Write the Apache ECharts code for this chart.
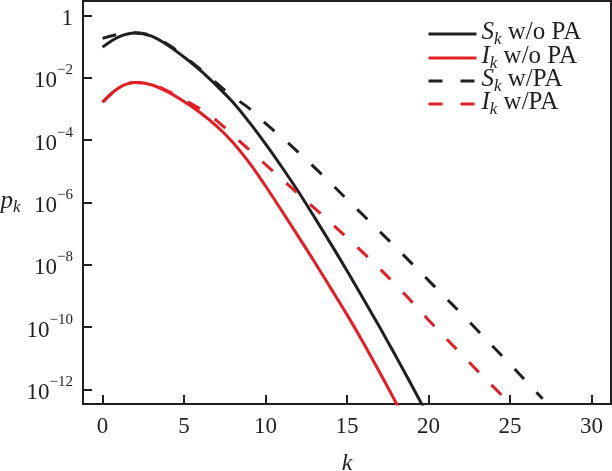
<!DOCTYPE html>
<html>
<head>
<meta charset="utf-8">
<script src="https://cdn.jsdelivr.net/npm/echarts@6/dist/echarts.min.js"></script>
<style>
html,body{margin:0;padding:0;background:#fff;}
#c{width:612px;height:471px;}
</style>
</head>
<body>
<div id="c"></div>
<script>
// k values (degree)
const kS_noPA = [0,1,2,3,4,5,6,7,8,9,10,11,12,13,14,15,16,17,18,19,20];
const kI_noPA = [0,1,2,3,4,5,6,7,8,9,10,11,12,13,14,15,16,17,18,19];
const kS_PA = [0,1,2,3,4,5,6,7,8,9,10,11,12,13,14,15,16,17,18,19,20,21,22,23,24,25,26,27];
const kI_PA = [0,1,2,3,4,5,6,7,8,9,10,11,12,13,14,15,16,17,18,19,20,21,22,23,24,25];

// log10(p_k)
const logS_noPA = [-1.01,-0.68,-0.556,-0.66,-0.95,-1.33,-1.76,-2.25,-2.78,-3.42,-4.12,-4.86,-5.64,-6.47,-7.32,-8.19,-9.09,-10.0,-10.94,-11.9,-12.88];
const logI_noPA = [-2.78,-2.32,-2.15,-2.22,-2.45,-2.76,-3.12,-3.55,-4.07,-4.72,-5.47,-6.27,-7.08,-7.9,-8.75,-9.6,-10.5,-11.45,-12.42,-13.4];
const logS_PA = [-0.73,-0.6,-0.55,-0.64,-0.92,-1.3,-1.72,-2.17,-2.6,-2.98,-3.46,-3.91,-4.38,-4.87,-5.38,-5.9,-6.41,-6.93,-7.44,-7.97,-8.5,-9.03,-9.56,-10.1,-10.65,-11.18,-11.75,-12.3];
const logI_PA = [-2.78,-2.32,-2.15,-2.2,-2.42,-2.7,-3.0,-3.37,-3.84,-4.31,-4.78,-5.25,-5.72,-6.18,-6.65,-7.13,-7.62,-8.12,-8.65,-9.2,-9.77,-10.32,-10.86,-11.4,-11.93,-12.45];

// tick labels
const xTicks = [0,5,10,15,20,25,30];
const yTicks = [0,-2,-4,-6,-8,-10,-12];

const seriesNames = ['Sk w/o PA','Ik w/o PA','Sk w/PA','Ik w/PA'];
const legendLabels = {
  'Sk w/o PA': '{m|S}{sub|k}{t| w/o PA}',
  'Ik w/o PA': '{m|I}{sub|k}{t| w/o PA}',
  'Sk w/PA': '{m|S}{sub|k}{t| w/PA}',
  'Ik w/PA': '{m|I}{sub|k}{t| w/PA}'
};

const BLACK = '#231f20';
const RED = '#e31f26';
const SERIF = '"Liberation Serif", "Times New Roman", Tinos, serif';

function pairs(ks, vs){ return ks.map((k,i)=>[k, vs[i]]); }

const chart = echarts.init(document.getElementById('c'), null, {renderer:'canvas'});

const subRich = {
  m: {fontFamily: SERIF, fontStyle:'italic', fontSize: 25, lineHeight: 28, verticalAlign:'top', color: BLACK},
  sub: {fontFamily: SERIF, fontStyle:'italic', fontSize: 17, lineHeight: 16, verticalAlign:'bottom', color: BLACK},
  t: {fontFamily: SERIF, fontSize: 25, lineHeight: 28, verticalAlign:'top', color: BLACK}
};

const legendTops = [20, 44, 67, 90];
const legends = seriesNames.map((n,i)=>({
  data: [n],
  left: 427,
  top: legendTops[i],
  orient: 'vertical',
  itemWidth: 48,
  itemHeight: 14,
  padding: 0,
  selectedMode: false,
  itemStyle: {opacity: 0},
  lineStyle: {width: 3},
  formatter: name => legendLabels[name],
  textStyle: {rich: subRich}
}));

function mkSeries(name, ks, vs, color, dashed){
  return {
    name: name,
    type: 'line',
    data: pairs(ks, vs),
    symbol: 'none',
    smooth: 0.35,
    clip: true,
    lineStyle: {color: color, width: 3, type: dashed ? [14,18] : 'solid', cap: 'butt'},
    itemStyle: {color: color},
    emphasis: {disabled: true}
  };
}

chart.setOption({
  animation: false,
  backgroundColor: '#fff',
  grid: {left: 83, right: 1, top: 1, bottom: 67, show: true, borderColor: BLACK, borderWidth: 2, backgroundColor: 'transparent', containLabel: false, outerBoundsMode: 'none'},
  legend: legends,
  xAxis: {
    type: 'value',
    min: -1.2,
    max: 31.2,
    name: 'k',
    nameLocation: 'middle',
    nameGap: 48,
    nameTextStyle: {fontFamily: SERIF, fontStyle: 'italic', fontSize: 24, color: BLACK},
    axisLine: {onZero: false, lineStyle: {color: BLACK, width: 2}},
    axisTick: {inside: true, length: 9, lineStyle: {color: BLACK, width: 2}, customValues: xTicks},
    axisLabel: {customValues: xTicks, fontFamily: SERIF, fontSize: 23, color: BLACK, margin: 11},
    splitLine: {show: false}
  },
  yAxis: {
    type: 'value',
    min: -12.47,
    max: 0.47,
    name: '{m|p}{sub|k}',
    nameLocation: 'middle',
    nameRotate: 0,
    nameGap: 53,
    nameTextStyle: {rich: subRich, align: 'right'},
    axisLine: {onZero: false, lineStyle: {color: BLACK, width: 2}},
    axisTick: {inside: true, length: 9, lineStyle: {color: BLACK, width: 2}, customValues: yTicks},
    axisLabel: {
      customValues: yTicks,
      margin: 10,
      formatter: v => v === 0 ? '{n|1}' : '{n|10}{s|\u2212' + (-v) + '}',
      rich: {
        n: {fontFamily: SERIF, fontSize: 23, lineHeight: 30, verticalAlign: 'bottom', color: BLACK},
        s: {fontFamily: SERIF, fontSize: 15, lineHeight: 15, verticalAlign: 'top', color: BLACK}
      }
    },
    splitLine: {show: false}
  },
  series: [
    mkSeries(seriesNames[0], kS_noPA, logS_noPA, BLACK, false),
    mkSeries(seriesNames[1], kI_noPA, logI_noPA, RED, false),
    mkSeries(seriesNames[2], kS_PA, logS_PA, BLACK, true),
    mkSeries(seriesNames[3], kI_PA, logI_PA, RED, true)
  ]
});
</script>
</body>
</html>
